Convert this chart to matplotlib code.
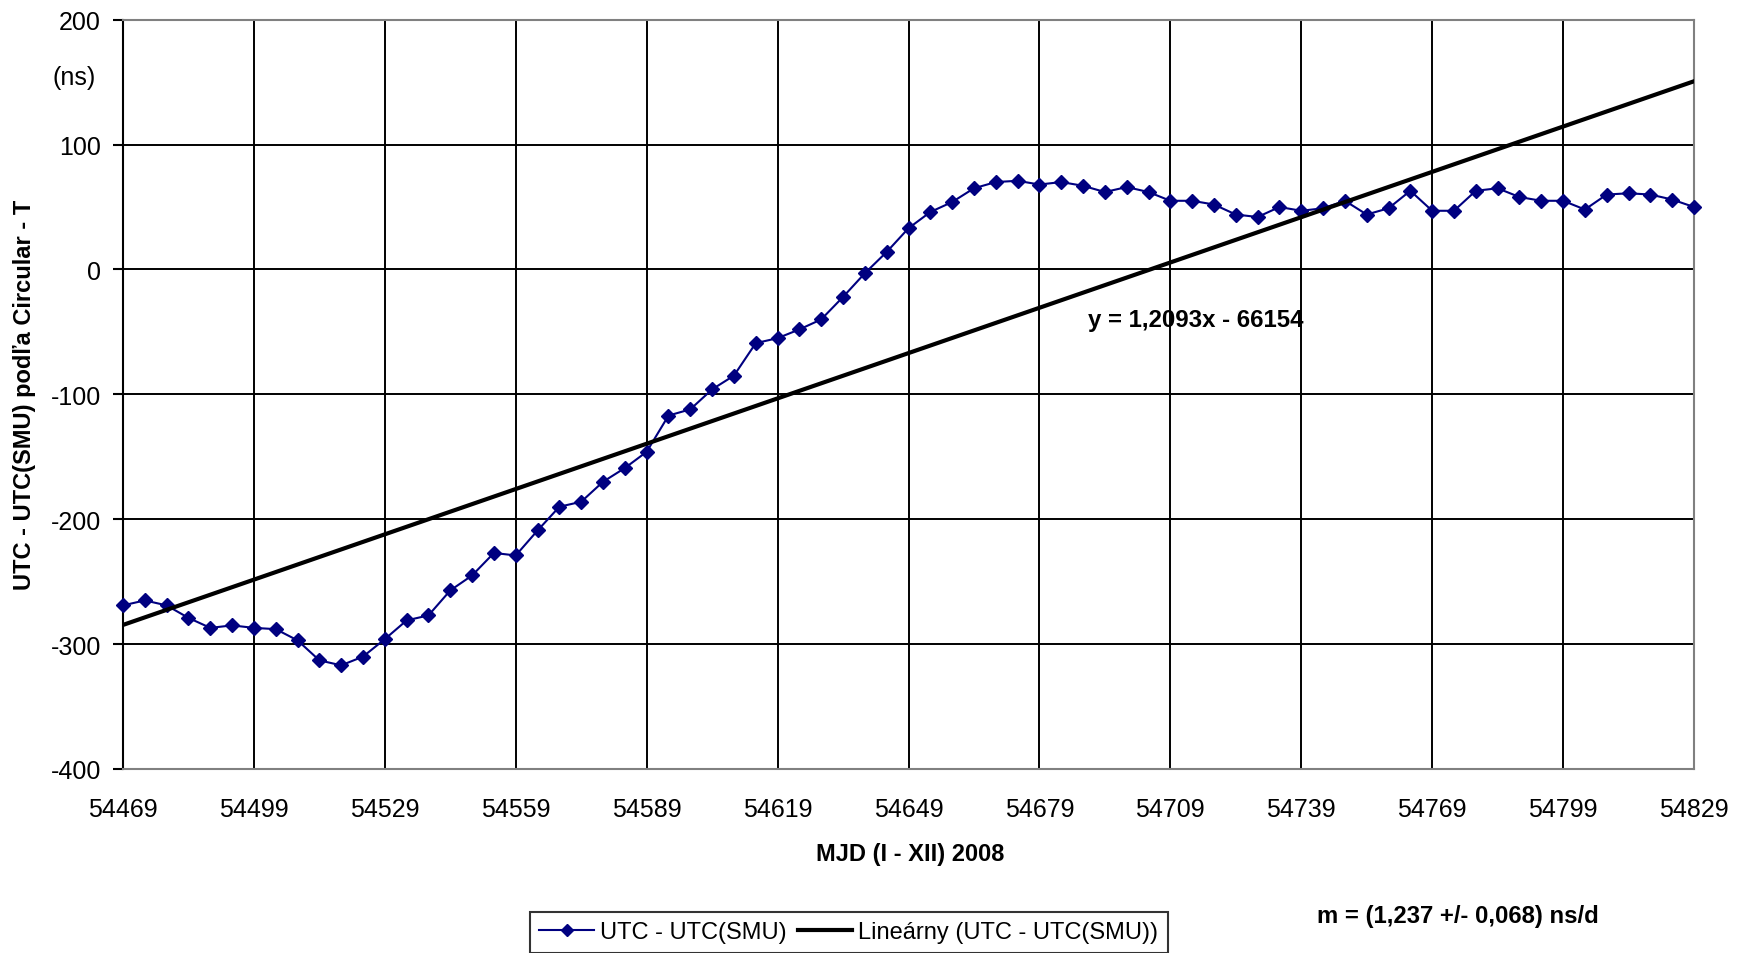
import matplotlib
matplotlib.use("Agg")
import matplotlib.pyplot as plt
import numpy as np

plt.rcParams['font.family'] = ['Liberation Sans', 'DejaVu Sans']
plt.rcParams['axes.unicode_minus'] = False

# ---- data ----
mjd = list(range(54469, 54830, 5))
utc_diff = [-269, -265, -269, -279, -287, -285, -287, -288, -297, -313,
            -317, -310, -296, -281, -277, -257, -245, -227, -229, -209,
            -190, -186, -170, -159, -146, -117, -112, -96, -85, -59,
            -55, -48, -40, -22, -3, 14, 33, 46, 54, 65,
            70, 71, 68, 70, 67, 62, 66, 62, 55, 55,
            52, 44, 42, 50, 47, 49, 55, 44, 49, 63,
            47, 47, 63, 65, 58, 55, 55, 48, 60, 61,
            60, 56, 50]
trend_slope = 1.2093
trend_intercept = -66154
x_ticks = list(range(54469, 54830, 30))
y_ticks = [-400, -300, -200, -100, 0, 100, 200]

series_label = "UTC - UTC(SMU)"
trend_label = "Lineárny (UTC - UTC(SMU))"
equation_text = "y = 1,2093x - 66154"
slope_text = "m = (1,237 +/- 0,068) ns/d"

W, H = 1749, 954
fig = plt.figure(figsize=(W / 100, H / 100), dpi=100)
ax = fig.add_axes([123 / W, 1 - 770 / H, (1694 - 123) / W, (770 - 20.7) / H])

ax.set_xlim(54469, 54829)
ax.set_ylim(-400, 200)
ax.set_xticks(x_ticks)
ax.set_yticks(y_ticks)
ax.grid(True, color='black', linewidth=1.4)
ax.set_axisbelow(True)

xs = np.array(mjd, dtype=float)
trend = trend_slope * np.array([xs[0], xs[-1]]) + trend_intercept
ax.plot(mjd, utc_diff, color='#000080', linewidth=1.5, marker='D',
        markersize=7.5, markerfacecolor='#000080', markeredgecolor='#000080',
        label=series_label, zorder=3, clip_on=False)
ax.plot([xs[0], xs[-1]], trend, color='black', linewidth=3.0,
        label=trend_label, zorder=4)

for s in ['top', 'right', 'bottom']:
    ax.spines[s].set_color('#808080')
    ax.spines[s].set_linewidth(1.5)
ax.spines['left'].set_color('black')
ax.spines['left'].set_linewidth(1.5)

ax.tick_params(axis='y', length=7, width=1.5, pad=9, labelsize=18)
ax.tick_params(axis='x', length=0, pad=20, labelsize=18)

fig.text(910 / W, 1 - 855 / H, "MJD (I - XII) 2008", ha='center', va='center',
         fontsize=17, fontweight='bold')
fig.text(25 / W, 1 - 395 / H, "UTC - UTC(SMU) podľa Circular - T", ha='center',
         va='center', rotation=90, fontsize=17, fontweight='bold')
fig.text(74 / W, 1 - 78 / H, "(ns)", ha='center', va='center', fontsize=18)
fig.text(1196 / W, 1 - 321 / H, equation_text, ha='center', va='center',
         fontsize=17.3, fontweight='bold')
fig.text(1458 / W, 1 - 917 / H, slope_text, ha='center', va='center',
         fontsize=17.2, fontweight='bold')

leg = fig.legend(loc='upper left', bbox_to_anchor=(530 / W, 1 - 913 / H),
                 borderaxespad=0,
                 ncol=2, fontsize=17, frameon=True, fancybox=False,
                 edgecolor='black', handlelength=2.3, handletextpad=0.25,
                 columnspacing=0.5, borderpad=0.4, markerscale=0.85)
leg.get_frame().set_linewidth(1.5)

fig.savefig("out.png", dpi=100)
